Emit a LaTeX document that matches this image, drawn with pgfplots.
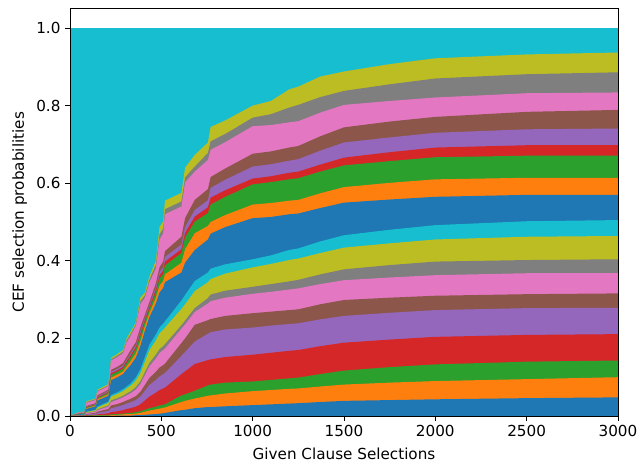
\documentclass[border=0pt]{standalone}
\usepackage{fontspec}
\setmainfont{DejaVu Sans}
\usepackage{pgfplots}
\pgfplotsset{compat=1.18}
\usepackage{pgfplotstable}
\definecolor{tblue}{HTML}{1F77B4}
\definecolor{torange}{HTML}{FF7F0E}
\definecolor{tgreen}{HTML}{2CA02C}
\definecolor{tred}{HTML}{D62728}
\definecolor{tpurple}{HTML}{9467BD}
\definecolor{tbrown}{HTML}{8C564B}
\definecolor{tpink}{HTML}{E377C2}
\definecolor{tgray}{HTML}{7F7F7F}
\definecolor{tolive}{HTML}{BCBD22}
\definecolor{tcyan}{HTML}{17BECF}
% cumulative upper edges of the stacked layers (b1 = bottom layer)
\pgfplotstableread{
x b1 b2 b3 b4 b5 b6 b7 b8 b9 b10 b11 b12 b13 b14 b15 b16 b17 b18 b19
0 0 0 0 0 0 0 0 0 0 0 0 0 0 0 0 0 0 0 0
40 0 0 0 0 0 .001 .001 .001 .002 .002 .004 .004 .005 .005 .006 .006 .008 .008 .009
80 0 0 0 .001 .001 .002 .002 .003 .003 .004 .006 .006 .007 .007 .008 .008 .010 .011 .012
90 0 0 .001 .002 .004 .005 .007 .008 .010 .011 .018 .020 .022 .023 .024 .026 .034 .036 .038
140 0 .001 .002 .003 .006 .008 .011 .012 .015 .016 .025 .027 .029 .030 .031 .033 .041 .043 .045
150 0 .001 .002 .004 .008 .011 .015 .017 .022 .024 .040 .043 .046 .048 .050 .053 .063 .065 .068
210 0 .001 .003 .007 .013 .018 .024 .027 .034 .037 .052 .056 .060 .062 .065 .068 .077 .079 .082
225 0 .002 .004 .010 .020 .027 .036 .040 .050 .054 .092 .099 .106 .110 .114 .119 .143 .146 .150
260 .001 .003 .005 .012 .024 .031 .042 .046 .057 .061 .100 .107 .114 .118 .122 .127 .152 .156 .160
290 .001 .004 .006 .015 .028 .036 .048 .052 .064 .069 .108 .115 .122 .126 .130 .136 .162 .166 .170
310 .001 .005 .007 .018 .032 .040 .053 .058 .071 .076 .120 .128 .136 .141 .145 .152 .190 .195 .200
330 .001 .005 .008 .020 .035 .044 .058 .063 .077 .083 .130 .140 .150 .155 .160 .168 .205 .210 .216
360 .002 .006 .010 .024 .041 .051 .068 .074 .091 .099 .150 .161 .172 .177 .182 .190 .232 .236 .240
385 .002 .008 .012 .030 .050 .062 .082 .089 .110 .120 .180 .193 .206 .212 .218 .228 .288 .296 .305
410 .003 .011 .016 .040 .065 .080 .105 .113 .140 .152 .220 .232 .243 .248 .253 .261 .305 .311 .318
435 .004 .014 .020 .050 .080 .098 .128 .137 .170 .184 .255 .266 .276 .281 .286 .294 .345 .352 .360
470 .005 .017 .024 .060 .093 .114 .148 .158 .195 .210 .290 .305 .318 .325 .332 .342 .380 .390 .400
490 .006 .019 .027 .067 .102 .125 .162 .172 .213 .228 .318 .336 .354 .362 .370 .383 .455 .468 .487
510 .007 .021 .029 .071 .108 .131 .170 .180 .222 .238 .330 .348 .366 .375 .384 .398 .470 .483 .502
520 .008 .022 .030 .073 .111 .135 .174 .185 .228 .244 .345 .365 .388 .398 .410 .425 .520 .533 .555
610 .015 .036 .053 .108 .155 .188 .225 .234 .276 .298 .370 .395 .420 .430 .442 .462 .540 .553 .575
630 .016 .039 .056 .115 .165 .200 .236 .246 .288 .312 .395 .430 .460 .472 .487 .510 .602 .615 .640
683 .020 .045 .065 .134 .192 .235 .268 .278 .322 .348 .428 .471 .501 .514 .531 .557 .630 .643 .673
755 .023 .052 .079 .144 .212 .247 .290 .304 .345 .370 .455 .490 .523 .538 .556 .585 .660 .678 .705
770 .023 .053 .081 .146 .216 .250 .296 .313 .353 .380 .470 .500 .545 .563 .588 .616 .686 .708 .745
850 .025 .058 .086 .152 .223 .258 .305 .323 .367 .391 .487 .518 .565 .582 .609 .638 .706 .727 .762
1000 .028 .064 .089 .158 .228 .265 .315 .333 .383 .404 .510 .545 .597 .612 .643 .676 .747 .769 .800
1100 .030 .067 .093 .163 .233 .269 .320 .340 .392 .414 .513 .549 .603 .618 .649 .682 .750 .778 .812
1200 .032 .070 .097 .168 .237 .273 .326 .347 .402 .428 .520 .555 .610 .627 .658 .692 .757 .795 .842
1250 .033 .071 .099 .170 .239 .275 .329 .351 .406 .432 .522 .557 .613 .630 .662 .696 .760 .802 .849
1370 .036 .076 .108 .180 .249 .288 .340 .365 .420 .450 .536 .574 .630 .648 .684 .721 .782 .822 .875
1500 .039 .081 .117 .189 .258 .299 .350 .378 .434 .466 .550 .590 .646 .666 .705 .744 .802 .838 .888
1750 .041 .086 .126 .197 .266 .305 .357 .389 .445 .480 .558 .601 .657 .680 .718 .759 .812 .855 .907
2000 .043 .090 .133 .204 .273 .310 .363 .398 .455 .492 .565 .610 .667 .692 .730 .771 .821 .870 .922
2500 .046 .095 .140 .209 .278 .314 .368 .402 .462 .502 .570 .614 .671 .698 .739 .784 .832 .881 .932
3000 .048 .100 .143 .211 .279 .316 .368 .404 .464 .505 .570 .614 .671 .698 .741 .789 .834 .886 .937
}\cum
\begin{document}
\begin{tikzpicture}[font=\fontsize{11.4}{13.5}\selectfont]
\begin{axis}[
  scale only axis, width=411pt, height=305.5pt,
  xmin=0, xmax=3000, ymin=0, ymax=1.05,
  xtick={0,500,1000,1500,2000,2500,3000},
  xticklabels={0,500,1000,1500,2000,2500,3000},
  ytick={0,0.2,0.4,0.6,0.8,1.0},
  yticklabels={0.0,0.2,0.4,0.6,0.8,1.0},
  tick pos=left, tick align=outside,
  major tick length=3.6pt,
  tick style={black, line width=0.6pt},
  axis line style={black, line width=0.6pt},
  xlabel={Given Clause Selections},
  ylabel={CEF selection probabilities},
  xlabel style={yshift=-1.5pt},
  axis on top,
]
\addplot[draw=none, fill=tcyan] coordinates {(0,1) (3000,1)} \closedcycle;
\addplot[draw=none, fill=tolive] table[x=x, y=b19] {\cum} \closedcycle;
\addplot[draw=none, fill=tgray] table[x=x, y=b18] {\cum} \closedcycle;
\addplot[draw=none, fill=tpink] table[x=x, y=b17] {\cum} \closedcycle;
\addplot[draw=none, fill=tbrown] table[x=x, y=b16] {\cum} \closedcycle;
\addplot[draw=none, fill=tpurple] table[x=x, y=b15] {\cum} \closedcycle;
\addplot[draw=none, fill=tred] table[x=x, y=b14] {\cum} \closedcycle;
\addplot[draw=none, fill=tgreen] table[x=x, y=b13] {\cum} \closedcycle;
\addplot[draw=none, fill=torange] table[x=x, y=b12] {\cum} \closedcycle;
\addplot[draw=none, fill=tblue] table[x=x, y=b11] {\cum} \closedcycle;
\addplot[draw=none, fill=tcyan] table[x=x, y=b10] {\cum} \closedcycle;
\addplot[draw=none, fill=tolive] table[x=x, y=b9] {\cum} \closedcycle;
\addplot[draw=none, fill=tgray] table[x=x, y=b8] {\cum} \closedcycle;
\addplot[draw=none, fill=tpink] table[x=x, y=b7] {\cum} \closedcycle;
\addplot[draw=none, fill=tbrown] table[x=x, y=b6] {\cum} \closedcycle;
\addplot[draw=none, fill=tpurple] table[x=x, y=b5] {\cum} \closedcycle;
\addplot[draw=none, fill=tred] table[x=x, y=b4] {\cum} \closedcycle;
\addplot[draw=none, fill=tgreen] table[x=x, y=b3] {\cum} \closedcycle;
\addplot[draw=none, fill=torange] table[x=x, y=b2] {\cum} \closedcycle;
\addplot[draw=none, fill=tblue] table[x=x, y=b1] {\cum} \closedcycle;
\end{axis}
\path (current axis.south west) ++(-52.5pt,-36pt) coordinate (bbA);
\path (current axis.north east) ++(18.75pt,6.5pt) coordinate (bbB);
\path[draw=none] (bbA) rectangle (bbB);
\end{tikzpicture}
\end{document}
